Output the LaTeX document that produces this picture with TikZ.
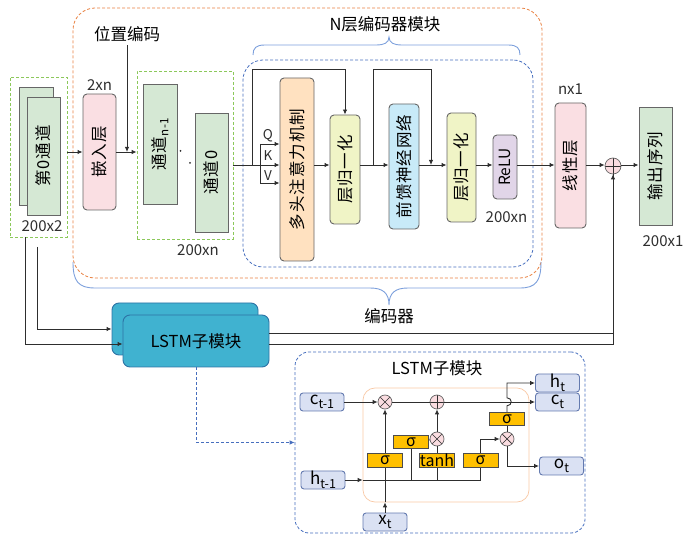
\documentclass[tikz,border=0pt]{standalone}
\usepackage{fontspec}
\setmainfont{Noto Sans CJK SC}
\newfontfamily\spacedcjk[LetterSpace=6]{Noto Sans CJK SC}
\usetikzlibrary{arrows.meta,positioning,calc}
\definecolor{PaleGreen}{RGB}{213,232,212}
\definecolor{GreenDash}{RGB}{140,200,90}
\definecolor{PaleRose}{RGB}{250,223,227}
\definecolor{PalePeach}{RGB}{255,225,192}
\definecolor{PaleLime}{RGB}{240,244,198}
\definecolor{PaleSky}{RGB}{200,234,248}
\definecolor{PaleLilac}{RGB}{225,213,232}
\definecolor{OrangeDash}{RGB}{232,128,64}
\definecolor{BlueDash}{RGB}{70,110,190}
\definecolor{BraceBlue}{RGB}{125,160,220}
\definecolor{LstmFill}{RGB}{64,178,208}
\definecolor{LstmLine}{RGB}{45,115,165}
\definecolor{CellFill}{RGB}{218,225,243}
\definecolor{CellLine}{RGB}{100,122,175}
\definecolor{GateGold}{RGB}{255,192,0}
\definecolor{OpPink}{RGB}{250,220,224}
\definecolor{CellOrange}{RGB}{248,200,165}
\colorlet{Ink}{black!82}
\newcommand\subt[1]{\raisebox{-0.45ex}{\fontsize{12.5}{12}\selectfont #1}}

\begin{document}
\begin{tikzpicture}[x=1pt,y=-1pt,line width=0.9pt,
    font=\fontsize{16.5}{18}\selectfont,
    blk/.style={draw=black!60,inner sep=0pt},
    rblk/.style={blk,rounded corners=4pt},
    vlab/.style={label={[rotate=90,font=\spacedcjk\fontsize{16.5}{18}\selectfont]center:#1}},
    dim/.style={font=\fontsize{15}{16}\selectfont,text=Ink,inner sep=1pt},
    fr/.style={dash pattern=on 3pt off 2pt,line width=0.8pt},
    arr/.style={-{Latex[length=5pt,width=4.5pt]},Ink},
    ln/.style={Ink},
    lstm/.style={draw=LstmLine,fill=LstmFill,rounded corners=7pt,minimum width=146pt,minimum height=52pt},
    cell/.style={draw=CellLine,fill=CellFill,rounded corners=3pt,minimum width=44pt,minimum height=18pt,inner sep=0pt,font=\fontsize{17}{16}\selectfont},
    gate/.style={draw=black!70,fill=GateGold,minimum width=35pt,minimum height=13.5pt,inner sep=0pt,font=\fontsize{16}{14}\selectfont},
    op/.style={circle,draw=black!60,fill=OpPink,minimum size=14pt,inner sep=0pt,line width=0.7pt},
    mul/.style={op,path picture={\draw[Ink,line width=0.7pt] (path picture bounding box.north west) -- (path picture bounding box.south east) (path picture bounding box.north east) -- (path picture bounding box.south west);}},
    add/.style={op,path picture={\draw[Ink,line width=0.7pt] (path picture bounding box.north) -- (path picture bounding box.south) (path picture bounding box.west) -- (path picture bounding box.east);}}
  ]
  \useasboundingbox (0,0) rectangle (683,534);

  \node[draw=OrangeDash,fr,rounded corners=22pt,minimum width=469pt,minimum height=270pt] (enc) at (307.5,143) {};
  \node[draw=BlueDash,fr,rounded corners=20pt,minimum width=290pt,minimum height=207pt] (blk) at (388,163.5) {};
  \node (encT) at (385,24) {N层编码器模块};
  \node (encB) at (389,316.5) {编码器};
  \draw[BraceBlue] (253,55) .. controls (253,48) and (256,45) .. (265,45) -- (376,45) .. controls (384,45) and (389,43) .. (389,37) .. controls (389,43) and (394,45) .. (402,45) -- (508,45) .. controls (517,45) and (520,48) .. (520,55);
  \draw[BraceBlue] (73,262) .. controls (73,281) and (78,288) .. (95,288) -- (370,288) .. controls (383,288) and (389,293) .. (389,305) .. controls (389,293) and (395,288) .. (408,288) -- (520,288) .. controls (536,288) and (541,281) .. (541,262);

  \node[draw=GreenDash,fr,minimum width=57pt,minimum height=160pt] (inF) at (38.5,157) {};
  \node[blk,fill=PaleGreen,minimum width=34pt,minimum height=118pt] (inB) at (36,146) {};
  \node[blk,fill=PaleGreen,minimum width=33pt,minimum height=118pt,vlab=第0通道] (in) at (43.5,156) {};
  \node[dim] (dIn) at (42,226) {200x2};
  \node[rblk,fill=PaleRose,minimum width=33pt,minimum height=116pt,vlab=嵌入层] (emb) at (99.5,152) {};
  \node[dim,above=2pt of emb] (dEmb) {2xn};
  \node (pe) at (127,34) {位置编码};
  \node[draw=GreenDash,fr,minimum width=96pt,minimum height=168pt] (chF) at (185,155) {};
  \node[blk,fill=PaleGreen,minimum width=34pt,minimum height=120pt,vlab=通道\textsubscript{n-1}] (chN) at (160,144) {};
  \node[blk,fill=PaleGreen,minimum width=33pt,minimum height=119pt,vlab=通道0] (ch0) at (211.5,172.5) {};
  \foreach \p in {(180.5,151),(190,163)} \fill[Ink] \p circle (1pt);
  \node[dim] (dCh) at (198,250) {200xn};

  \node[rblk,fill=PalePeach,minimum width=34pt,minimum height=183pt,vlab=多头注意力机制] (mha) at (297,169.5) {};
  \node[rblk,fill=PaleLime,minimum width=30pt,minimum height=109pt,vlab=层归一化] (ln1) at (345,169.5) {};
  \node[rblk,fill=PaleSky,minimum width=30pt,minimum height=125pt,vlab=前馈神经网络] (ffn) at (404,166.5) {};
  \node[rblk,fill=PaleLime,minimum width=29pt,minimum height=109pt,vlab=层归一化] (ln2) at (461.5,167.5) {};
  \node[rblk,fill=PaleLilac,minimum width=24pt,minimum height=64pt,label={[rotate=90,font=\fontsize{15.5}{16}\selectfont]center:ReLU}] (relu) at (505,167) {};
  \node[dim] (dRelu) at (506.5,217.5) {200xn};
  \node[rblk,fill=PaleRose,minimum width=31pt,minimum height=125pt,vlab=线性层] (lin) at (570.5,165.5) {};
  \node[dim,above=7pt of lin] (dLin) {nx1};
  \node[add,minimum size=16pt] (plus) at (613,166) {};
  \node[blk,fill=PaleGreen,minimum width=33pt,minimum height=118pt,vlab=输出序列] (out) at (655.5,166) {};
  \node[dim] (dOut) at (663,241) {200x1};

  \coordinate (ml) at (0,165);
  \coordinate (top) at (0,69);
  \draw[arr] (inF.east |- emb) -- (emb.west);
  \draw[arr] (emb.east) -- (chF.west |- emb);
  \draw[arr] (pe.south) -- (pe.south |- emb);
  \foreach \a/\b in {chF/mha,mha/ln1,ln1/ffn,ffn/ln2,ln2/relu,relu/lin,lin/plus,plus/out}
    \draw[arr] (\a.east |- ml) -- (\b.west |- ml);
  \coordinate (r1) at (252,165);
  \coordinate (r2) at (373,165);
  \coordinate (r3) at (431,165);
  \draw[arr] (r1) |- (top -| ln1) -- (ln1.north);
  \draw[arr] (r2) |- (top -| r3) -- (r3);
  \coordinate (q) at (260,144);
  \coordinate (v) at (260,183);
  \draw[ln] (q) -- (v);
  \draw[arr] (q) -- (q -| mha.west);
  \draw[arr] (v) -- (v -| mha.west);
  \foreach \t/\y in {Q/136,K/156,V/176}
    \node[font=\fontsize{13.5}{13}\selectfont,text=Ink,inner sep=0pt] (l\t) at (268,\y) {\t};

  \node[lstm] (lstmB) at (185,329) {};
  \node[lstm] (lstm) at (196,341) {LSTM子模块};
  \draw[arr] ([xshift=-13.5pt]inF.south) |- ([yshift=-3pt]lstm.west);
  \coordinate (a2) at (37,247);
  \draw[arr] (a2) |- (lstmB.west);
  \coordinate (o1) at ([yshift=-4pt]lstmB.east);
  \draw[ln] (o1 -| lstm.east) -| (plus.south);
  \draw[arr] ([yshift=-3pt]lstm.east) -| (plus.south);

  \node[draw=BlueDash,fr,rounded corners=14pt,minimum width=290pt,minimum height=181pt] (lf) at (440,442.5) {};
  \draw[arr,BlueDash,fr] (lstm.south) |- (lf.west);
  \node (lfT) at (437,368) {LSTM子模块};
  \node[draw=CellOrange,line width=0.7pt,rounded corners=12pt,minimum width=166pt,minimum height=114pt] (cellF) at (446,445) {};

  \node[cell] (ct1) at (322,402) {c\subt{t-1}};
  \node[cell] (ht1) at (323,480) {h\subt{t-1}};
  \node[cell] (xt) at (385,522) {x\subt{t}};
  \node[cell] (ht) at (557.5,383) {h\subt{t}};
  \node[cell] (ct) at (557.5,402) {c\subt{t}};
  \node[cell] (ot) at (561.5,466) {o\subt{t}};
  \node[mul] (m1) at (385,402) {};
  \node[add] (p1) at (437,402) {};
  \node[mul] (m2) at (437,439) {};
  \node[mul] (m3) at (507,439) {};
  \node[gate] (g1) at (385,460.5) {σ};
  \node[gate] (g2) at (411,442) {σ};
  \node[gate] (g3) at (437,460.5) {tanh};
  \node[gate] (g4) at (480.5,460.5) {σ};
  \node[gate] (g5) at (507,419) {σ};

  \coordinate (hin) at (cellF.west |- ht1);
  \coordinate (xin) at (cellF.south -| xt);
  \draw[arr] (ct1) -- (m1);
  \draw[ln] (m1) -- (p1);
  \draw[arr] (p1) -- (ct);
  \draw[arr] (g1) -- (m1);
  \draw[arr] (m2) -- (p1);
  \draw[ln] (g2) -- (m2);
  \draw[ln] (g3) -- (m2);
  \draw[arr] (xt) -- (xin);
  \draw[ln] (xin) -- (g1);
  \draw[arr] (ht1) -- (hin);
  \draw[ln] (hin) -| (g4);
  \draw[ln] (g2.south) -- (g2.south |- hin);
  \draw[ln] (g3.south) -- (g3.south |- hin);
  \draw[arr] (g4.north) |- (m3);
  \draw[ln] (m3) -- (g5);
  \draw[arr] (m3.south) |- (ot);
  \draw[arr] (g5.north) -- ++(0,-6) to[out=0,in=0,looseness=1.8] ++(0,-8) |- (ht);
\end{tikzpicture}
\end{document}
